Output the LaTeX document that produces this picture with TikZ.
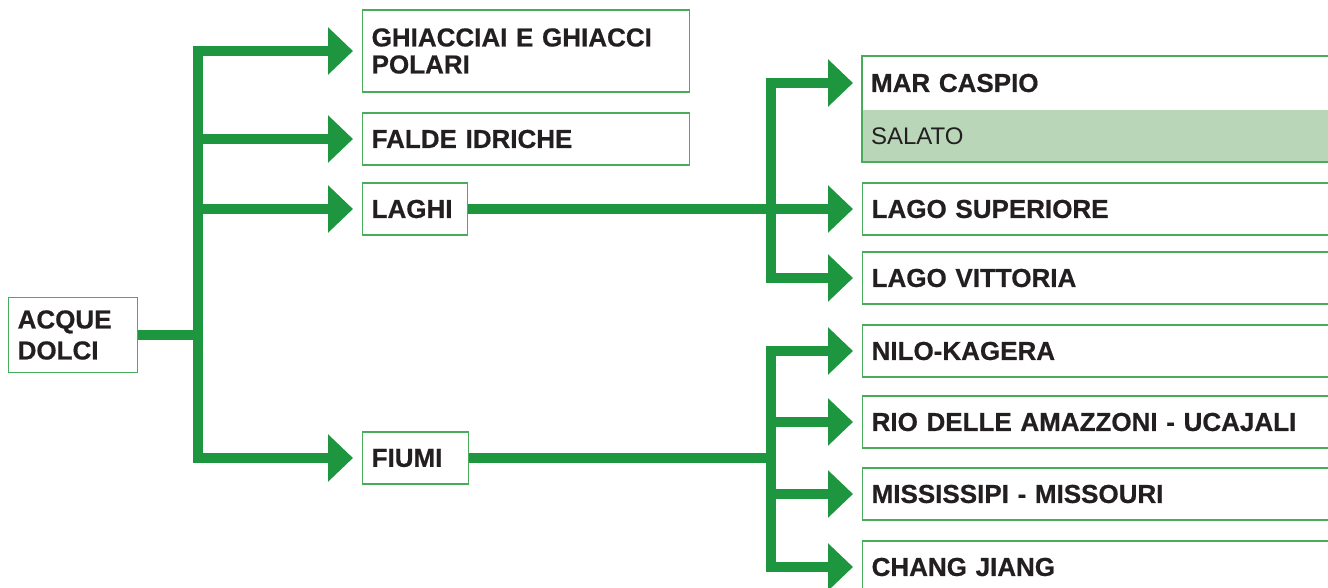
\documentclass[tikz,border=0pt]{standalone}
\usepackage{fontspec}
\setmainfont{Liberation Sans}[BoldFeatures={FakeBold=0.6}]
\usetikzlibrary{arrows.meta,positioning}
\definecolor{flowgreen}{RGB}{30,150,63}
\definecolor{edgegreen}{RGB}{72,172,92}
\definecolor{saltgreen}{RGB}{185,215,184}
\definecolor{inkblack}{RGB}{35,31,32}
\tikzset{
  box/.style={draw=edgegreen,line width=1.3pt,anchor=west,inner xsep=9pt,inner ysep=0pt,
    align=left,text=inkblack,font=\fontsize{26}{27}\selectfont\bfseries},
  wide/.style={box,text width=480pt,minimum height=52pt},
  trunk/.style={draw=flowgreen,line width=10pt},
  branch/.style={trunk,-{Triangle[length=25pt,width=46pt]},shorten >=9pt}
}

\begin{document}
\begin{tikzpicture}[x=1pt,y=-1pt]
\useasboundingbox (0,0) rectangle (1328,588);
\clip (0,0) rectangle (1328,588);
\node[box,text width=111pt,minimum height=75pt,font=\fontsize{26}{31}\selectfont\bfseries] (AD) at (8,335) {ACQUE\\DOLCI};
\node[box,text width=309pt,minimum height=82pt] (GH) at (362,51) {GHIACCIAI E GHIACCI\\POLARI};
\node[box,text width=309pt,minimum height=52pt] (FI) at (362,139) {FALDE IDRICHE};
\node[box,text width=87pt,minimum height=52pt] (LA) at (362,209) {LAGHI};
\node[box,text width=88pt,minimum height=52pt] (FM) at (362,458) {FIUMI};
\node[wide,draw=none,outer sep=0pt,minimum height=54pt] (MC) at (862,83) {MAR CASPIO};
\node[wide,draw=none,outer sep=0pt,fill=saltgreen,font=\fontsize{24}{26}\selectfont,below=0pt of MC] (SA) {SALATO};
\draw[edgegreen,line width=1.3pt] (MC.north west) rectangle (SA.south east);
\node[wide] (LS) at (862,209) {LAGO SUPERIORE};
\node[wide] (LV) at (862,278) {LAGO VITTORIA};
\node[wide] (NK) at (862,351) {NILO-KAGERA};
\node[wide] (RA) at (862,422) {RIO DELLE AMAZZONI - UCAJALI};
\node[wide] (MM) at (862,494) {MISSISSIPI - MISSOURI};
\node[wide] (CJ) at (862,567) {CHANG JIANG};
\coordinate (J1) at (197.5,335);
\coordinate (J2) at (771,209);
\coordinate (J3) at (771,458);
\draw[trunk] (AD.east) -- (J1);
\foreach \t in {GH,FI,LA,FM} \draw[branch] (J1) |- (\t.west);
\draw[branch] (LA.east) -- (LS.west);
\foreach \t in {MC,LV} \draw[branch] (J2) |- (\t.west);
\draw[trunk] (FM.east) -- (J3);
\foreach \t in {NK,RA,MM,CJ} \draw[branch] (J3) |- (\t.west);
\end{tikzpicture}
\end{document}
